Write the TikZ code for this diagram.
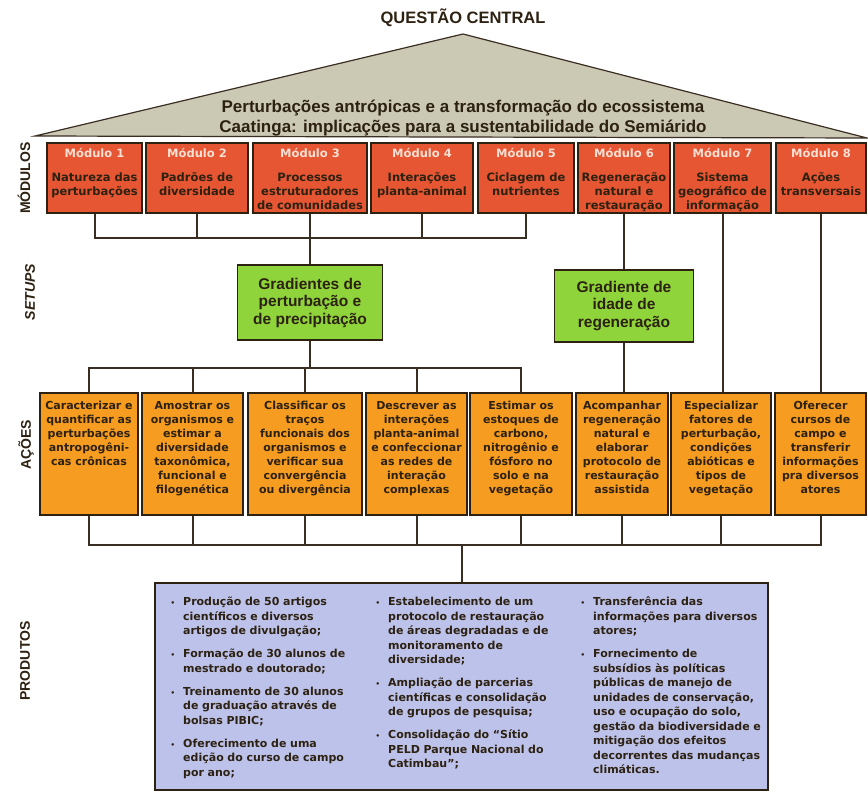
\documentclass[tikz,border=0pt]{standalone}
\usepackage{fontspec}
\setmainfont{DejaVu Sans}
\newfontfamily\arialfont{Liberation Sans}
\usepackage{enumitem}
\usetikzlibrary{positioning}

\definecolor{ink}{RGB}{45,33,18}
\definecolor{wire}{RGB}{58,46,34}
\definecolor{trigray}{RGB}{203,200,180}
\definecolor{modred}{RGB}{230,86,50}
\definecolor{modtitle}{RGB}{250,224,212}
\definecolor{setgreen}{RGB}{142,212,58}
\definecolor{actorange}{RGB}{246,156,32}
\definecolor{prodblue}{RGB}{188,194,234}

\begin{document}
\begin{tikzpicture}[
    x=1pt, y=-1pt,
    box/.style={rectangle, draw=ink, line width=1.6pt, inner sep=0pt},
    modbox/.style={box, fill=modred, minimum height=70},
    actbox/.style={box, fill=actorange, minimum height=122},
    setupbox/.style={box, fill=setgreen, align=center, text=ink,
        font=\arialfont\bfseries\fontsize{15.5}{17.5}\selectfont},
    modtext/.style={align=center, text=ink, inner sep=0pt,
        font=\bfseries\fontsize{11.5}{14}\selectfont},
    acttext/.style={align=center, text=ink, inner sep=0pt,
        font=\bfseries\fontsize{11}{14}\selectfont},
    sidelabel/.style={rotate=90, text=ink,
        font=\arialfont\bfseries\fontsize{14}{16}\selectfont},
    prodcol/.style={anchor=north west, inner sep=0pt, text=ink, text width=200,
        font=\bfseries\fontsize{11}{14.5}\selectfont},
    conn/.style={draw=wire, line width=2pt}
  ]
  \useasboundingbox (0,0) rectangle (868,792);

  % roof
  \node (title) [text=ink, font=\arialfont\bfseries\fontsize{16.5}{18}\selectfont] at (463,18) {QUESTÃO CENTRAL};
  \draw [fill=trigray, draw=wire, line width=1.2pt] (35,136) -- (463,34) -- (867,138) -- cycle;
  \node (central) [align=center, text=ink, font=\arialfont\bfseries\fontsize{17}{20}\selectfont] at (463,118)
    {Perturbações antrópicas e a transformação do ecossistema\\Caatinga: implicações para a sustentabilidade do Semiárido};

  % side labels
  \node (lbl_mod) [sidelabel] at (24,178) {MÓDULOS};
  \node (lbl_set) [sidelabel, font=\arialfont\bfseries\itshape\fontsize{14}{16}\selectfont] at (30,292) {SETUPS};
  \node (lbl_acao) [sidelabel] at (26,445) {AÇÕES};
  \node (lbl_prod) [sidelabel] at (25,661) {PRODUTOS};

  % modules
  \node (m1) [modbox, minimum width=95] at (94.5,178) {};
  \node (m2) [modbox, minimum width=102] at (197,178) {};
  \node (m3) [modbox, minimum width=114] at (310,178) {};
  \node (m4) [modbox, minimum width=102] at (422,178) {};
  \node (m5) [modbox, minimum width=96] at (526,178) {};
  \node (m6) [modbox, minimum width=92] at (624,178) {};
  \node (m7) [modbox, minimum width=97] at (722.5,178) {};
  \node (m8) [modbox, minimum width=90] at (821,178) {};
  \node (m1_txt) [modtext, below=6pt of m1.north] {{\color{modtitle}Módulo 1}\\[10pt]Natureza das\\perturbações};
  \node (m2_txt) [modtext, below=6pt of m2.north] {{\color{modtitle}Módulo 2}\\[10pt]Padrões de\\diversidade};
  \node (m3_txt) [modtext, below=6pt of m3.north] {{\color{modtitle}Módulo 3}\\[10pt]Processos\\estruturadores\\de comunidades};
  \node (m4_txt) [modtext, below=6pt of m4.north] {{\color{modtitle}Módulo 4}\\[10pt]Interações\\planta-animal};
  \node (m5_txt) [modtext, below=6pt of m5.north] {{\color{modtitle}Módulo 5}\\[10pt]Ciclagem de\\nutrientes};
  \node (m6_txt) [modtext, below=6pt of m6.north] {{\color{modtitle}Módulo 6}\\[10pt]Regeneração\\natural e\\restauração};
  \node (m7_txt) [modtext, below=6pt of m7.north] {{\color{modtitle}Módulo 7}\\[10pt]Sistema\\geográfico de\\informação};
  \node (m8_txt) [modtext, below=6pt of m8.north] {{\color{modtitle}Módulo 8}\\[10pt]Ações\\transversais};

  % setups
  \node (g1) [setupbox, minimum width=145, minimum height=75] at (310,302.5)
    {Gradientes de\\perturbação e\\de precipitação};
  \node (g2) [setupbox, minimum width=139, minimum height=72] at (624,306)
    {Gradiente de\\idade de\\regeneração};

  % actions
  \node (a1) [actbox, minimum width=98] at (89,454) {};
  \node (a2) [actbox, minimum width=101] at (192.5,454) {};
  \node (a3) [actbox, minimum width=114] at (305,454) {};
  \node (a4) [actbox, minimum width=101] at (416.5,454) {};
  \node (a5) [actbox, minimum width=102] at (521,454) {};
  \node (a6) [actbox, minimum width=92] at (622,454) {};
  \node (a7) [actbox, minimum width=100] at (721,454) {};
  \node (a8) [actbox, minimum width=91] at (820.5,454) {};
  \node (a1_txt) [acttext, below=9pt of a1.north] {Caracterizar e\\quantificar as\\perturbações\\antropogêni-\\cas crônicas};
  \node (a2_txt) [acttext, below=9pt of a2.north] {Amostrar os\\organismos e\\estimar a\\diversidade\\taxonômica,\\funcional e\\filogenética};
  \node (a3_txt) [acttext, below=9pt of a3.north] {Classificar os\\traços\\funcionais dos\\organismos e\\verificar sua\\convergência\\ou divergência};
  \node (a4_txt) [acttext, below=9pt of a4.north] {Descrever as\\interações\\planta-animal\\e confeccionar\\as redes de\\interação\\complexas};
  \node (a5_txt) [acttext, below=9pt of a5.north] {Estimar os\\estoques de\\carbono,\\nitrogênio e\\fósforo no\\solo e na\\vegetação};
  \node (a6_txt) [acttext, below=9pt of a6.north] {Acompanhar\\regeneração\\natural e\\elaborar\\protocolo de\\restauração\\assistida};
  \node (a7_txt) [acttext, below=9pt of a7.north] {Especializar\\fatores de\\perturbação,\\condições\\abióticas e\\tipos de\\vegetação};
  \node (a8_txt) [acttext, below=9pt of a8.north] {Oferecer\\cursos de\\campo e\\transferir\\informações\\pra diversos\\atores};

  % products
  \node (prod) [box, fill=prodblue, minimum width=613, minimum height=207] at (461.5,686.5) {};
  \node (prod_c1) [prodcol] at (165,591) {\raggedright
    \begin{itemize}[leftmargin=18pt, labelsep=8pt, itemsep=8.5pt, topsep=0pt, parsep=0pt, partopsep=0pt, label={\scriptsize\textbullet}]
      \item Produção de 50 artigos\\científicos e diversos\\artigos de divulgação;
      \item Formação de 30 alunos de\\mestrado e doutorado;
      \item Treinamento de 30 alunos\\de graduação através de\\bolsas PIBIC;
      \item Oferecimento de uma\\edição do curso de campo\\por ano;
    \end{itemize}};
  \node (prod_c2) [prodcol] at (370,591) {\raggedright
    \begin{itemize}[leftmargin=18pt, labelsep=8pt, itemsep=8.5pt, topsep=0pt, parsep=0pt, partopsep=0pt, label={\scriptsize\textbullet}]
      \item Estabelecimento de um\\protocolo de restauração\\de áreas degradadas e de\\monitoramento de\\diversidade;
      \item Ampliação de parcerias\\científicas e consolidação\\de grupos de pesquisa;
      \item Consolidação do “Sítio\\PELD Parque Nacional do\\Catimbau”;
    \end{itemize}};
  \node (prod_c3) [prodcol] at (575,591) {\raggedright
    \begin{itemize}[leftmargin=18pt, labelsep=8pt, itemsep=8.5pt, topsep=0pt, parsep=0pt, partopsep=0pt, label={\scriptsize\textbullet}]
      \item Transferência das\\informações para diversos\\atores;
      \item Fornecimento de\\subsídios às políticas\\públicas de manejo de\\unidades de conservação,\\uso e ocupação do solo,\\gestão da biodiversidade e\\mitigação dos efeitos\\decorrentes das mudanças\\climáticas.
    \end{itemize}};

  % connectors
  \coordinate (hub_mod) at (310,238);
  \coordinate (hub_set) at (310,368);
  \coordinate (hub_act) at (461.5,545);
  \draw [conn] (m1.south) |- (hub_mod) -| (m5.south);
  \draw [conn] (m2.south) -- (m2.south |- hub_mod);
  \draw [conn] (m4.south) -- (m4.south |- hub_mod);
  \draw [conn] (m3.south) -- (g1.north);
  \draw [conn] (m6.south) -- (g2.north);
  \draw [conn] (m7.south) -- (m7.south |- a7.north);
  \draw [conn] (m8.south) -- (m8.south |- a8.north);
  \draw [conn] (g1.south) -- (hub_set);
  \draw [conn] (a1.north) |- (hub_set) -| (a5.north);
  \draw [conn] (a2.north) -- (a2.north |- hub_set);
  \draw [conn] (a3.north) -- (a3.north |- hub_set);
  \draw [conn] (a4.north) -- (a4.north |- hub_set);
  \draw [conn] (g2.south) -- (g2.south |- a6.north);
  \draw [conn] (a1.south) |- (hub_act) -| (a8.south);
  \draw [conn] (a2.south) -- (a2.south |- hub_act);
  \draw [conn] (a3.south) -- (a3.south |- hub_act);
  \draw [conn] (a4.south) -- (a4.south |- hub_act);
  \draw [conn] (a5.south) -- (a5.south |- hub_act);
  \draw [conn] (a6.south) -- (a6.south |- hub_act);
  \draw [conn] (a7.south) -- (a7.south |- hub_act);
  \draw [conn] (hub_act) -- (prod.north);
\end{tikzpicture}
\end{document}
